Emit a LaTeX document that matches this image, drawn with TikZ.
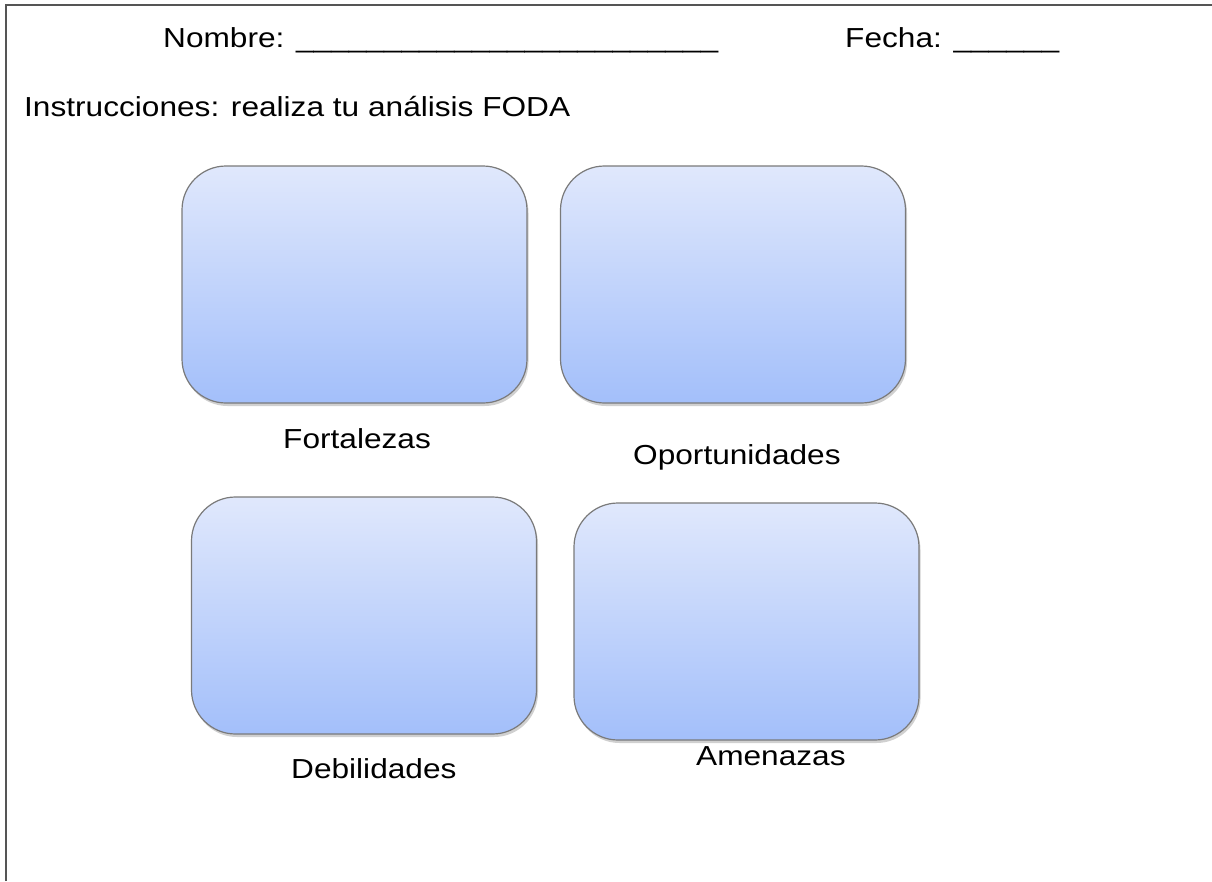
\documentclass[tikz,border=0pt]{standalone}
\usepackage{fontspec}
\setmainfont{Liberation Sans}[FakeStretch=1.15]
\usetikzlibrary{shadows}
\definecolor{framegray}{HTML}{555555}
\definecolor{boxtop}{HTML}{E0E8FC}
\definecolor{boxbot}{HTML}{A3BFFA}
\definecolor{boxline}{HTML}{7A7A7A}
\tikzset{
  foda/.style={rectangle, rounded corners=44pt, minimum width=345pt, minimum height=237pt,
    inner sep=0pt, draw=boxline, line width=1.2pt, top color=boxtop, bottom color=boxbot,
    drop shadow={shadow xshift=1.5pt, shadow yshift=-3pt, opacity=0.3, fill=black!60}},
  txt/.style={anchor=base west, inner sep=0pt, font=\fontsize{27.5}{32}\selectfont, text=black}
}
\begin{document}
\begin{tikzpicture}[x=1pt,y=-1pt]
\useasboundingbox (0,0) rectangle (1212,881);
\fill[white] (0,0) rectangle (1212,881);
\coordinate (fbl) at (6,881);
\coordinate (ftl) at (6,5);
\coordinate (ftr) at (1212,5);
\draw[framegray, line width=2pt] (fbl) -- (ftl) -- (ftr);
\node[txt] (nombre) at (163,47) {Nombre: \_\_\_\_\_\_\_\_\_\_\_\_\_\_\_\_\_\_\_\_\_\_\_\_};
\node[txt] (fecha) at (845,47) {Fecha: \_\_\_\_\_\_};
\node[txt] (instr) at (24,116) {Instrucciones: realiza tu análisis FODA};
\node[foda] (f) at (354.5,284.5) {};
\node[foda] (o) at (733,284.5) {};
\node[foda] (d) at (364,615.5) {};
\node[foda] (a) at (746.5,621.5) {};
\node[txt] (fl) at (283,448) {Fortalezas};
\node[txt] (ol) at (633,464) {Oportunidades};
\node[txt] (dl) at (291,778) {Debilidades};
\node[txt] (al) at (696,765) {Amenazas};
\end{tikzpicture}
\end{document}
